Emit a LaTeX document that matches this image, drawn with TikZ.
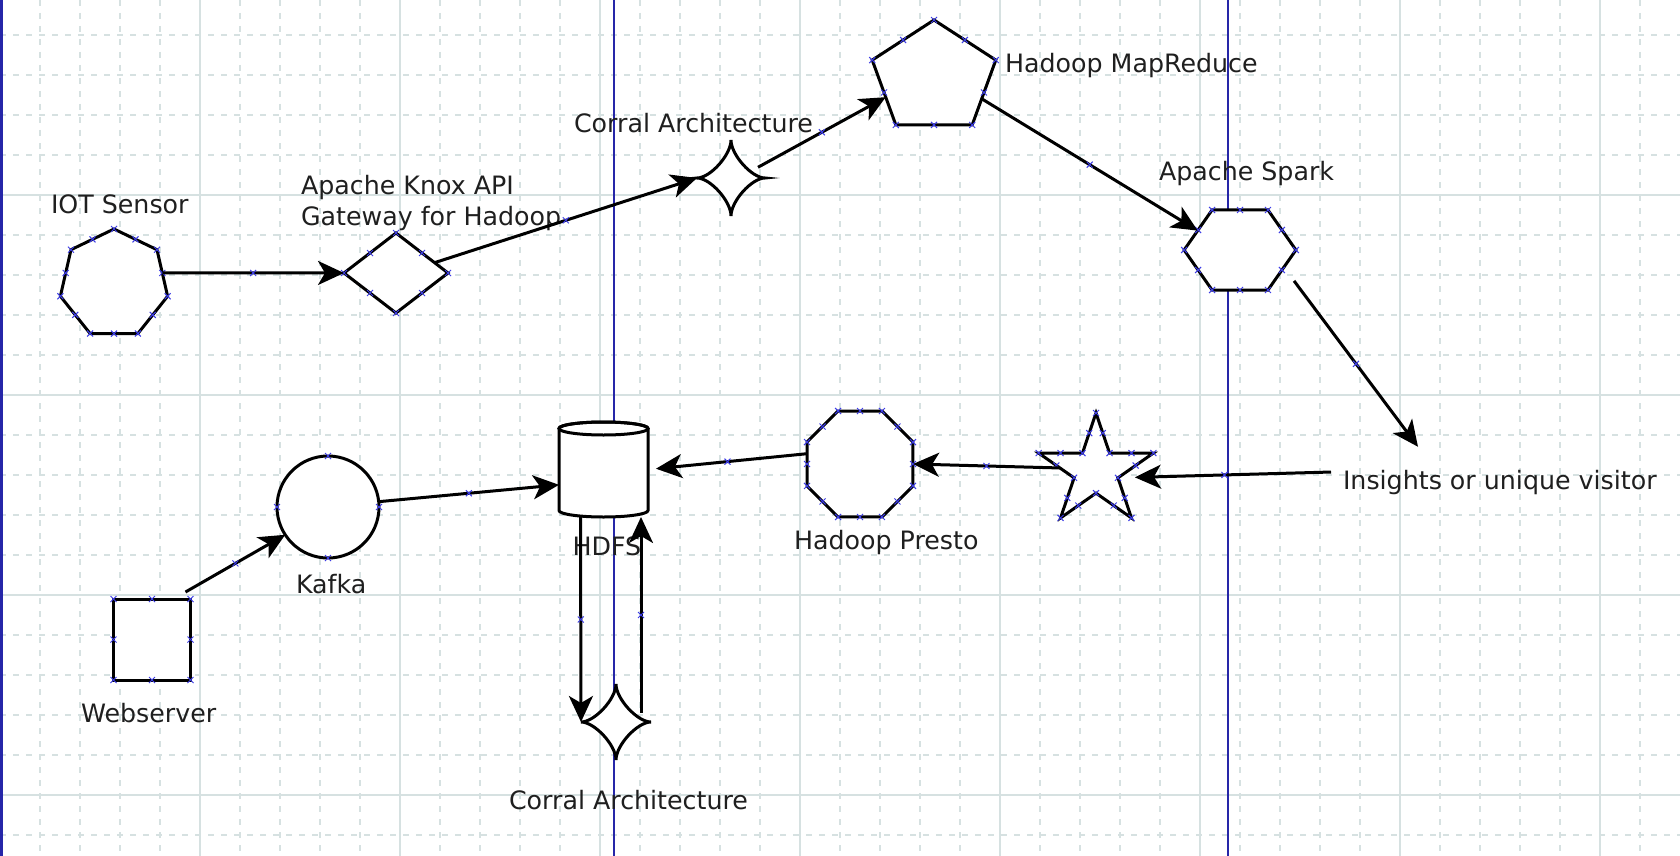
\documentclass[tikz,border=0pt]{standalone}
\usepackage{fontspec}
\setmainfont{DejaVu Sans}
\usetikzlibrary{arrows.meta,shapes.geometric,calc}
\definecolor{gridc}{RGB}{214,225,225}
\definecolor{pageb}{RGB}{38,38,168}
\definecolor{cpblue}{RGB}{60,60,230}
\newcommand\astroidpath[1]{%
  \filldraw[line width=3pt, fill=white]
    (#1.west) .. controls ($(#1.center)!0.61!(#1.west)$) and ($(#1.center)!0.61!(#1.north)$) .. (#1.north)
    .. controls ($(#1.center)!0.61!(#1.north)$) and ($(#1.center)!0.61!(#1.east)$) .. (#1.east)
    .. controls ($(#1.center)!0.61!(#1.east)$) and ($(#1.center)!0.61!(#1.south)$) .. (#1.south)
    .. controls ($(#1.center)!0.61!(#1.south)$) and ($(#1.center)!0.61!(#1.west)$) .. (#1.west) -- cycle;}
\begin{document}
\begin{tikzpicture}[x=1pt,y=-1pt,
  shp/.style={draw=black, line width=3pt, fill=white, inner sep=0pt, outer sep=0pt},
  ghost/.style={draw=none, rectangle, inner sep=0pt, outer sep=0pt},
  lbl/.style={inner sep=0pt, outer sep=0pt, anchor=base west, font=\fontsize{25.3}{31}\selectfont, text=black!88},
  arr/.style={line width=3pt, -{Stealth[length=26pt,width=24pt,inset=7pt]}},
  minor/.style={gridc, line width=1.5pt, dash pattern=on 6pt off 7pt},
  major/.style={gridc, line width=2pt},
  cpx/.pic={\draw[cpblue, line width=1pt] (-3,-3) -- (3,3) (-3,3) -- (3,-3);},
]
\useasboundingbox (0,0) rectangle (1680,856);
\fill[white] (0,0) rectangle (1680,856);
% grid
\foreach \x in {40,80,...,1640} { \draw[minor] (\x,0) -- (\x,856); }
\foreach \y in {35,75,...,835} { \draw[minor] (0,\y) -- (1680,\y); }
\foreach \x in {200,400,...,1600} { \draw[major] (\x,0) -- (\x,856); }
\foreach \y in {195,395,595,795} { \draw[major] (0,\y) -- (1680,\y); }
% page lines
\draw[pageb, line width=2pt] (614,0) -- (614,856);
\draw[pageb, line width=2pt] (1228,0) -- (1228,856);
\draw[pageb, line width=2.6pt] (1.3,0) -- (1.3,856);

% shapes
\node[shp, regular polygon, regular polygon sides=7, minimum size=110pt] (iot) at (114,284) {};
\node[shp, diamond, minimum width=104pt, minimum height=80pt, aspect=1.3] (knox) at (396,273) {};
\node[ghost, minimum width=68pt, minimum height=76pt] (corA) at (731,178) {};
\astroidpath{corA}
\node[shp, regular polygon, regular polygon sides=5, minimum size=116pt, xscale=1.12] (mapred) at (934,78) {};
\node[shp, regular polygon, regular polygon sides=6, minimum size=92.4pt, xscale=1.21] (spark) at (1240,250) {};
\node[shp, star, star points=5, star point ratio=2.618, minimum size=116pt, xscale=1.04] (st) at (1096,471) {};
\node[shp, regular polygon, regular polygon sides=8, minimum size=114.7pt] (presto) at (860,464) {};
\node[ghost, minimum width=89pt, minimum height=95pt] (hdfs) at (603.5,469.5) {};
\filldraw[line width=3pt, fill=white]
  ($(hdfs.north west)+(0,6.5)$) -- ($(hdfs.south west)+(0,-6.5)$)
  arc[start angle=180, end angle=0, x radius=44.5, y radius=6.5]
  -- ($(hdfs.north east)+(0,6.5)$)
  arc[start angle=0, end angle=-180, x radius=44.5, y radius=6.5] -- cycle;
\draw[line width=3pt] ($(hdfs.north)+(0,6.5)$) ellipse[x radius=44.5, y radius=6.5];
\node[shp, circle, minimum size=102pt] (kafka) at (328,507) {};
\node[shp, rectangle, minimum width=77pt, minimum height=81pt] (web) at (152,639.5) {};
\node[ghost, minimum width=70pt, minimum height=76pt] (corB) at (616,722) {};
\astroidpath{corB}

% connection points of the shapes
\foreach \i in {1,...,7} { \pic at (iot.corner \i) {cpx}; \pic at (iot.side \i) {cpx}; }
\foreach \i in {1,...,5} { \pic at (mapred.corner \i) {cpx}; \pic at (mapred.side \i) {cpx}; }
\foreach \i in {1,...,6} { \pic at (spark.corner \i) {cpx}; \pic at (spark.side \i) {cpx}; }
\foreach \i in {1,...,8} { \pic at (presto.corner \i) {cpx}; \pic at (presto.side \i) {cpx}; }
\foreach \i [evaluate=\i as \j using {int(mod(\i,5)+1)}] in {1,...,5} {
  \pic at (st.outer point \i) {cpx}; \pic at (st.inner point \i) {cpx};
  \pic at ($(st.outer point \i)!0.5!(st.inner point \i)$) {cpx};
  \pic at ($(st.inner point \i)!0.5!(st.outer point \j)$) {cpx};
}
\foreach \a/\b in {north/east,east/south,south/west,west/north} {
  \pic at (knox.\a) {cpx}; \pic at ($(knox.\a)!0.5!(knox.\b)$) {cpx};
}
\foreach \a in {north west,north,north east,east,south east,south,south west,west} { \pic at (web.\a) {cpx}; }
\foreach \a in {north,east,south,west} { \pic at (kafka.\a) {cpx}; }

% labels
\node[lbl] (liot) at (51,213) {IOT Sensor};
\node[lbl, align=left, anchor=north west] (lknox) at (301,175) {Apache Knox API\\Gateway for Hadoop};
\node[lbl] (lcorA) at (574,132) {Corral Architecture};
\node[lbl] (lmap) at (1005,73) {Hadoop MapReduce};
\node[lbl] (lspark) at (1159,180) {Apache Spark};
\node[lbl] (ins) at (1343,489) {Insights or unique visitor};
\node[lbl] (lpresto) at (794,549) {Hadoop Presto};
\node[lbl] (lhdfs) at (572.5,555) {HDFS};
\node[lbl] (lkafka) at (296,593) {Kafka};
\node[lbl] (lweb) at (81,722) {Webserver};
\node[lbl] (lcorB) at (509,809) {Corral Architecture};

% connectors
\draw[arr] (iot.13) -- (knox.west) coordinate[pos=0.5] (m1);
\draw[arr] (knox.15) -- (corA.west) coordinate[pos=0.5] (m2);
\draw[arr] ([xshift=-7pt,yshift=-3pt]corA.22) -- (mapred.204) coordinate[pos=0.5] (m3);
\draw[arr] (mapred.-26) -- (spark.151) coordinate[pos=0.5] (m4);
\draw[arr] ([xshift=15.5pt,yshift=-6pt]spark.-38) -- ([xshift=75pt,yshift=23pt]ins.north west) coordinate[pos=0.5] (m5);
\draw[arr, shorten >=17pt] ([xshift=-12pt,yshift=10pt]ins.west) -- (st.-18) coordinate[pos=0.5] (m6);
\draw[arr] (st.175) -- (presto.0) coordinate[pos=0.5] (m7);
\draw[arr, shorten >=8pt] (presto.169) -- (hdfs.east) coordinate[pos=0.5] (m8);
\draw[arr] (kafka.6) -- (hdfs.199) coordinate[pos=0.5] (m9);
\draw[arr] ([xshift=-5pt,yshift=7pt]web.north east) -- (kafka.213) coordinate[pos=0.5] (m10);
\draw[arr] ([xshift=-23pt]hdfs.south) -- (corB.west) coordinate[pos=0.5] (m11);
\draw[arr] ([xshift=25pt,yshift=9pt]corB.center) -- ([xshift=-7pt]hdfs.south east) coordinate[pos=0.5] (m12);
\foreach \m in {m1,m2,m3,m4,m5,m6,m7,m8,m9,m10,m11,m12} { \pic at (\m) {cpx}; }
\end{tikzpicture}
\end{document}
